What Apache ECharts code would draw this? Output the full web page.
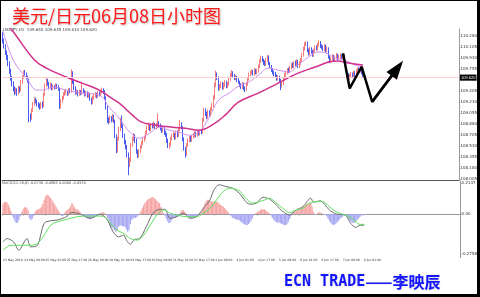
<!DOCTYPE html>
<html><head><meta charset="utf-8">
<script src="https://cdn.jsdelivr.net/npm/echarts@6/dist/echarts.min.js"></script>
<style>
html,body{margin:0;padding:0;background:#fff;}
#wrap{position:relative;width:480px;height:297px;overflow:hidden;}
#c{width:480px;height:297px;}
#frame{position:absolute;left:0;top:0;width:480px;height:297px;box-sizing:border-box;border-style:solid;border-color:#000;border-width:1px 3px 3px 1px;pointer-events:none;}
</style></head><body>
<div id="wrap"><div id="c"></div><div id="frame"></div></div>
<script>
// ---- data ----
const tickLabels = ['23 May 2018','24 May 09:00','25 May 01:00','25 May 17:00','28 May 09:00','29 May 01:00','29 May 17:00','30 May 09:00','31 May 01:00','31 May 17:00','1 Jun 09:00','4 Jun 01:00','4 Jun 17:00','5 Jun 09:00','6 Jun 01:00','6 Jun 17:00','7 Jun 09:00','8 Jun 01:00'];
const slotCount = 345;      // hourly slots across the plot (data + empty right margin)
const labelEvery = 16;      // one time label every 16 bars
const firstOpen = 110.30;
const closes = [
110.20,110.12,110.02,109.95,109.85,109.72,109.62,109.52,109.45,109.40,
109.42,109.38,109.45,109.42,109.55,109.62,109.70,109.68,109.62,109.58,
109.00,108.98,109.10,109.20,109.28,109.25,109.20,109.18,109.15,109.20,
109.17,109.35,109.50,109.58,109.52,109.47,109.50,109.45,109.48,109.46,
109.50,109.47,109.44,109.15,109.25,109.30,109.36,109.38,109.40,109.36,
109.42,109.40,109.70,109.55,109.45,109.38,109.40,109.35,109.40,109.37,
109.42,109.40,109.35,109.38,109.33,109.36,109.28,109.22,109.30,109.33,
109.36,109.32,109.38,109.35,109.40,109.42,109.40,109.30,109.15,108.95,
108.92,108.98,108.95,109.00,108.93,108.70,108.45,108.65,108.80,108.90,
108.85,108.70,108.60,108.52,108.40,108.25,108.30,108.55,108.65,108.70,
108.62,108.45,108.38,108.45,108.52,108.58,108.63,108.67,108.75,108.82,
108.85,108.80,108.86,108.85,108.88,108.83,108.87,108.90,108.86,108.82,
108.78,108.80,108.75,108.72,108.62,108.52,108.55,108.65,108.70,108.72,
108.66,108.75,108.70,108.80,108.88,108.83,108.65,108.50,108.40,108.55,
108.62,108.66,108.63,108.68,108.70,108.74,108.70,108.76,108.73,108.76,
108.75,108.95,109.10,109.05,109.00,109.08,109.03,109.12,109.18,109.30,
109.50,109.65,109.62,109.45,109.48,109.52,109.46,109.50,109.55,109.48,
109.52,109.60,109.66,109.70,109.65,109.61,109.63,109.58,109.55,109.50,
109.47,109.52,109.45,109.43,109.52,109.60,109.67,109.70,109.72,109.68,
109.74,109.70,109.73,109.80,109.88,109.94,109.90,109.85,109.84,109.90,
109.95,109.85,109.80,109.74,109.70,109.68,109.65,109.60,109.63,109.58,
109.50,109.52,109.60,109.66,109.70,109.74,109.72,109.78,109.82,109.80,
109.85,109.83,109.88,109.80,109.85,109.90,109.98,110.08,110.15,110.17,
110.05,110.00,110.08,110.03,109.98,110.05,110.10,110.08,110.14,110.18,
110.12,110.10,110.07,110.12,110.05,110.08,109.95,109.88,109.92,109.96,
109.90,109.94,109.98,109.93,109.95,109.97,109.94,109.96,109.85,109.75,
109.66,109.62,109.65,109.68,109.64,109.70,109.66,109.72,109.75,109.73,
109.78,109.70,109.64,109.62];
const highs = [
110.34,110.24,110.15,110.05,109.98,109.88,109.76,109.65,109.56,109.48,
109.46,109.45,109.49,109.48,109.58,109.66,109.73,109.74,109.70,109.65,
109.60,109.05,109.13,109.23,109.31,109.30,109.27,109.23,109.21,109.23,
109.24,109.38,109.53,109.63,109.60,109.55,109.54,109.53,109.51,109.50,
109.53,109.52,109.50,109.46,109.28,109.33,109.39,109.42,109.44,109.42,
109.45,109.45,109.75,109.72,109.58,109.48,109.43,109.42,109.43,109.42,
109.55,109.45,109.42,109.41,109.40,109.39,109.38,109.30,109.33,109.36,
109.39,109.38,109.41,109.40,109.43,109.46,109.45,109.42,109.32,109.17,
108.99,109.02,109.01,109.04,109.03,108.95,108.72,108.68,108.84,108.98,
109.02,108.88,108.73,108.63,108.55,108.43,108.35,108.58,108.68,108.74,
108.72,108.65,108.48,108.48,108.55,108.61,108.66,108.70,108.78,108.86,
108.91,108.88,108.89,108.90,108.92,108.90,108.90,109.05,108.93,108.89,
108.85,108.84,108.83,108.78,108.74,108.65,108.59,108.68,108.73,108.76,
108.74,108.78,108.78,108.84,108.95,108.91,108.85,108.67,108.52,108.58,
108.65,108.69,108.70,108.71,108.74,108.77,108.76,108.79,108.79,108.79,
108.80,108.98,109.14,109.13,109.08,109.11,109.10,109.15,109.22,109.34,
109.54,109.73,109.70,109.64,109.52,109.56,109.55,109.54,109.58,109.57,
109.55,109.63,109.69,109.74,109.72,109.68,109.66,109.65,109.61,109.57,
109.53,109.55,109.54,109.48,109.55,109.63,109.70,109.73,109.75,109.74,
109.77,109.76,109.76,109.83,109.91,109.97,109.96,109.92,109.89,109.93,
109.98,109.97,109.87,109.82,109.77,109.73,109.71,109.67,109.66,109.65,
109.60,109.56,109.63,109.69,109.73,109.77,109.78,109.81,109.85,109.86,
109.88,109.89,109.91,109.90,109.88,109.93,110.01,110.11,110.18,110.20,
110.19,110.08,110.11,110.10,110.06,110.08,110.13,110.13,110.17,110.21,
110.20,110.15,110.13,110.15,110.14,110.11,110.10,109.97,109.95,109.99,
109.98,109.97,110.01,110.00,109.98,110.00,109.99,109.99,109.98,109.87,
109.77,109.69,109.68,109.71,109.70,109.73,109.72,109.75,109.78,109.78,
109.81,109.80,109.72,109.66];
const lows = [
110.16,110.08,109.98,109.90,109.80,109.68,109.57,109.48,109.40,109.34,
109.36,109.33,109.35,109.38,109.40,109.52,109.60,109.64,109.59,109.54,
108.91,108.92,108.95,109.07,109.17,109.21,109.16,109.14,109.11,109.12,
109.13,109.15,109.33,109.47,109.49,109.43,109.44,109.42,109.42,109.43,
109.44,109.44,109.41,109.12,109.13,109.22,109.27,109.33,109.35,109.33,
109.34,109.37,109.38,109.52,109.42,109.35,109.35,109.32,109.33,109.34,
109.35,109.37,109.32,109.32,109.30,109.30,109.25,109.19,109.20,109.27,
109.30,109.29,109.30,109.32,109.33,109.37,109.36,109.27,109.11,108.90,
108.88,108.90,108.91,108.92,108.90,108.66,108.42,108.43,108.62,108.77,
108.82,108.66,108.56,108.48,108.35,108.07,108.20,108.28,108.52,108.61,
108.58,108.41,108.34,108.35,108.42,108.49,108.55,108.60,108.64,108.72,
108.79,108.77,108.77,108.81,108.82,108.80,108.80,108.84,108.83,108.78,
108.74,108.75,108.71,108.68,108.58,108.50,108.49,108.53,108.62,108.67,
108.63,108.64,108.67,108.68,108.77,108.80,108.61,108.46,108.35,108.38,
108.52,108.59,108.60,108.60,108.65,108.67,108.67,108.68,108.70,108.70,
108.72,108.73,108.92,109.01,108.96,108.97,109.00,109.00,109.09,109.15,
109.27,109.47,109.58,109.41,109.42,109.45,109.43,109.43,109.47,109.45,
109.45,109.49,109.57,109.63,109.62,109.58,109.58,109.55,109.52,109.47,
109.44,109.44,109.42,109.39,109.41,109.49,109.57,109.64,109.67,109.65,
109.65,109.67,109.67,109.70,109.77,109.85,109.87,109.82,109.80,109.81,
109.87,109.82,109.77,109.71,109.67,109.64,109.62,109.57,109.57,109.55,
109.42,109.46,109.50,109.57,109.63,109.67,109.69,109.69,109.75,109.77,
109.77,109.80,109.80,109.77,109.77,109.82,109.87,109.95,110.05,110.12,
110.02,109.97,109.97,110.00,109.95,109.95,110.02,110.05,110.05,110.11,
110.09,110.07,110.04,110.04,110.02,110.02,109.92,109.85,109.85,109.89,
109.87,109.87,109.91,109.90,109.90,109.92,109.91,109.91,109.82,109.72,
109.62,109.58,109.59,109.62,109.61,109.61,109.63,109.63,109.69,109.70,
109.70,109.67,109.61,109.59];
const priceTicks = [108.005,108.180,108.355,108.530,108.705,108.880,109.055,109.230,109.405,109.580,109.755,109.930,110.105,110.280];
const lastPrice = 109.62;
// moving averages, sampled [bar index, price]
const maSlow = [[0,110.55],[7,110.375],[24,109.898],[33,109.771],[48,109.628],[60,109.532],[73,109.421],[81,109.310],[88,109.214],[98,109.023],[105,108.912],[116,108.864],[128,108.832],[138,108.816],[148,108.784],[158,108.864],[168,109.023],[178,109.230],[193,109.373],[208,109.532],[223,109.691],[236,109.787],[246,109.866],[253,109.882],[261,109.850],[272,109.819]];
const maFast = [[0,110.375],[8,109.898],[18,109.612],[26,109.421],[30,109.421],[38,109.469],[48,109.421],[60,109.373],[73,109.341],[81,109.135],[88,108.975],[96,108.753],[103,108.657],[111,108.737],[118,108.832],[126,108.784],[133,108.753],[141,108.705],[148,108.753],[156,108.991],[163,109.262],[171,109.373],[178,109.485],[186,109.548],[193,109.659],[201,109.771],[208,109.739],[216,109.707],[223,109.819],[231,109.946],[238,110.025],[244,110.010],[251,109.930],[258,109.898],[266,109.819],[272,109.787]];
// hand-drawn forecast zigzag, [bar index, price]
const arrowPath = [[257,110.005],[262,109.448],[271,109.792],[279,109.235],[298,109.766]];
// MACD panel
const macdHist = [
0.07,0.08,0.083,0.08,0.065,0.045,0.02,-0.01,-0.03,-0.05,
-0.062,-0.058,-0.04,-0.015,0.01,0.03,0.045,0.048,0.04,0.025,
-0.03,-0.041,-0.035,-0.015,0.01,0.025,0.03,0.035,0.04,0.05,
0.07,0.095,0.12,0.131,0.128,0.12,0.11,0.095,0.08,0.065,
0.05,0.035,0.02,0.005,-0.012,-0.014,0.005,0.015,0.025,0.03,
0.04,0.055,0.076,0.06,0.045,0.035,0.03,0.025,0.015,-0.005,
-0.01,-0.015,-0.02,-0.025,-0.03,-0.035,-0.032,-0.028,-0.025,-0.02,
-0.015,-0.01,-0.005,0.003,0.008,0.012,0.01,0.004,-0.01,-0.03,
-0.05,-0.076,-0.09,-0.1,-0.112,-0.122,-0.11,-0.087,-0.08,-0.078,
-0.082,-0.085,-0.087,-0.105,-0.122,-0.11,-0.07,-0.04,-0.03,-0.028,
-0.025,-0.02,-0.01,0.005,0.02,0.04,0.06,0.075,0.088,0.098,
0.105,0.108,0.113,0.117,0.11,0.1,0.09,0.08,0.074,0.05,
0.02,0.005,-0.01,-0.03,-0.05,-0.062,-0.058,-0.045,-0.03,-0.028,
-0.025,-0.02,-0.012,-0.004,0.015,0.028,0.025,0.015,0.005,-0.01,
-0.02,-0.028,-0.028,-0.025,-0.022,-0.018,-0.015,-0.01,-0.005,0.005,
0.02,0.045,0.07,0.088,0.097,0.095,0.09,0.085,0.083,0.085,
0.087,0.085,0.08,0.07,0.062,0.056,0.051,0.04,0.03,0.02,
0.01,-0.005,-0.015,-0.025,-0.03,-0.035,-0.038,-0.04,-0.042,-0.05,
-0.058,-0.065,-0.07,-0.076,-0.075,-0.07,-0.06,-0.045,-0.03,-0.01,
0.003,0.008,0.015,0.022,0.028,0.032,0.034,0.03,0.025,0.018,
0.01,0.003,-0.01,-0.025,-0.04,-0.05,-0.055,-0.06,-0.058,-0.062,
-0.068,-0.072,-0.075,-0.076,-0.07,-0.055,-0.035,-0.015,0.005,0.012,
0.018,0.022,0.025,0.03,0.035,0.04,0.048,0.055,0.062,0.068,
0.072,0.075,0.076,0.05,0.015,-0.005,-0.004,0.006,0.012,0.012,
0.006,0.001,-0.002,-0.005,-0.015,-0.03,-0.045,-0.06,-0.07,-0.076,
-0.072,-0.065,-0.055,-0.045,-0.035,-0.025,-0.018,-0.01,-0.004,-0.01,
-0.025,-0.04,-0.05,-0.058,-0.062,-0.058,-0.05,-0.04,-0.03,-0.02,
-0.012,-0.006,-0.004,-0.003];
const macdMain = [[0,-0.191],[3,-0.168],[8,-0.191],[12,-0.248],[16,-0.191],[18,-0.168],[21,-0.225],[26,-0.214],[31,-0.064],[36,-0.046],[41,-0.041],[48,-0.018],[52,0.011],[58,0],[66,-0.030],[73,-0.002],[78,-0.030],[83,-0.122],[87,-0.156],[91,-0.145],[93,-0.179],[96,-0.207],[99,-0.175],[103,-0.168],[108,-0.087],[113,0.005],[118,0.032],[122,0.032],[126,-0.030],[131,-0.018],[136,0.005],[141,-0.030],[146,-0.018],[151,0.039],[156,0.097],[159,0.165],[163,0.200],[168,0.188],[173,0.177],[178,0.143],[186,0.067],[191,0.074],[196,0.115],[201,0.101],[206,0.062],[211,0.016],[216,-0.007],[221,0.028],[226,0.050],[232,0.108],[234,0.081],[239,0.090],[246,0.028],[251,0],[258,-0.007],[262,-0.064],[266,-0.092],[269,-0.076],[272,-0.080]];
const macdSignal = [[0,-0.248],[6,-0.214],[13,-0.214],[21,-0.214],[26,-0.202],[31,-0.145],[36,-0.076],[41,-0.053],[48,-0.037],[56,-0.018],[63,-0.014],[71,-0.014],[76,-0.018],[81,-0.064],[86,-0.110],[91,-0.133],[96,-0.168],[101,-0.179],[106,-0.145],[111,-0.076],[116,-0.007],[121,0.028],[126,0.005],[131,-0.007],[138,-0.018],[146,-0.018],[151,0.005],[156,0.039],[161,0.097],[166,0.154],[171,0.177],[178,0.160],[183,0.108],[188,0.074],[196,0.092],[201,0.108],[206,0.074],[211,0.039],[216,0.009],[221,0.028],[226,0.039],[231,0.074],[236,0.085],[241,0.085],[246,0.050],[251,0.016],[256,-0.002],[261,-0.018],[266,-0.053],[269,-0.071],[273,-0.071]];
const macdTicks = [-0.2758, 0, 0.2137];

// ---- build the option ----
const cats = Array.from({length: slotCount}, (_, i) => String(i));
const opens = closes.map((c, i) => i === 0 ? firstOpen : closes[i - 1]);
const candleData = closes.map((c, i) => [opens[i], c, lows[i], highs[i]]);
const showLabel = (idx) => idx % labelEvery === 0 && idx / labelEvery < tickLabels.length;

const chart = echarts.init(document.getElementById('c'), null, {renderer: 'canvas'});
chart.setOption({
  animation: false,
  backgroundColor: '#ffffff',
  title: [
    {text: '美元/日元06月08日小时图', left: 7, top: 2,
     textStyle: {color: '#ff1a1a', fontSize: 18, fontWeight: 'normal', fontFamily: 'Noto Sans CJK SC',
       textShadowColor: 'rgba(0,0,0,0.25)', textShadowBlur: 2, textShadowOffsetX: 1, textShadowOffsetY: 1}},
    {text: '{a|ECN TRADE}{b|——李映辰}', left: 279, top: 269,
     textStyle: {rich: {
       a: {fontFamily: 'DejaVu Sans Mono', fontSize: 15, color: '#1515ff', textShadowColor: 'rgba(0,0,0,0.2)', textShadowBlur: 2},
       b: {fontFamily: 'Noto Sans CJK SC', fontSize: 16, color: '#1515ff', textShadowColor: 'rgba(0,0,0,0.2)', textShadowBlur: 2}}}}
  ],
  graphic: [
    {type: 'text', left: 3, top: 28, style: {text: 'USDJPY,H1  109.640 109.645 109.610 109.620', fontSize: 4, fill: '#444', fontFamily: 'DejaVu Sans'}},
    {type: 'text', left: 2, top: 181, style: {text: 'MACD(12,26,9) -0.0730 -0.0865 0.0000 -0.0579', fontSize: 3.5, fill: '#444', fontFamily: 'DejaVu Sans'}}
  ],
  grid: [
    {left: 2, right: 18, top: 29, height: 151},
    {left: 2, right: 18, top: 181, height: 76.5}
  ],
  xAxis: [
    {type: 'category', gridIndex: 0, data: cats, boundaryGap: true,
     axisLine: {show: true, lineStyle: {color: '#555', width: 1}}, axisTick: {show: false}, axisLabel: {show: false}, splitLine: {show: false}},
    {type: 'category', gridIndex: 1, data: cats, boundaryGap: true,
     axisLine: {show: true, lineStyle: {color: '#9a9a9a', width: 1}},
     axisTick: {show: true, length: 1.5, interval: (i) => showLabel(i), lineStyle: {color: '#9a9a9a'}},
     axisLabel: {show: true, interval: (i) => showLabel(i), formatter: (v, idx) => tickLabels[idx / labelEvery],
       showMinLabel: true, hideOverlap: false,
       fontSize: 3, color: '#333', align: 'left', margin: 1.5, fontFamily: 'DejaVu Sans'},
     splitLine: {show: false}}
  ],
  yAxis: [
    {type: 'value', gridIndex: 0, position: 'right', min: 107.994, max: 110.391, scale: true,
     axisLine: {show: true, lineStyle: {color: '#9a9a9a'}},
     axisTick: {show: true, length: 1.5, customValues: priceTicks, lineStyle: {color: '#9a9a9a'}},
     axisLabel: {customValues: priceTicks, formatter: (v) => v.toFixed(3), fontSize: 4, color: '#333', margin: 1.5, fontFamily: 'DejaVu Sans'},
     splitLine: {show: false}},
    {type: 'value', gridIndex: 1, position: 'right', min: -0.2977, max: 0.2259,
     axisLine: {show: true, lineStyle: {color: '#9a9a9a'}},
     axisTick: {show: true, length: 1.5, customValues: macdTicks, lineStyle: {color: '#9a9a9a'}},
     axisLabel: {customValues: macdTicks, formatter: (v) => v === 0 ? '0.00' : v.toFixed(4), fontSize: 4, color: '#333', margin: 1.5, fontFamily: 'DejaVu Sans'},
     splitLine: {show: false}}
  ],
  series: [
    {type: 'candlestick', xAxisIndex: 0, yAxisIndex: 0, data: candleData, barWidth: 1,
     itemStyle: {color: '#f88e8e', color0: '#2a3de0', borderColor: '#f47c7c', borderColor0: '#4a5cf0', borderWidth: 1},
     markLine: {silent: true, symbol: ['none', 'none'], data: [{yAxis: lastPrice}],
       lineStyle: {color: '#ffd0d0', width: 1, type: 'solid'},
       label: {position: 'end', formatter: lastPrice.toFixed(3), color: '#fff', backgroundColor: '#000', fontSize: 4, padding: [1, 1], distance: 1}},
     z: 2},
    {type: 'line', xAxisIndex: 0, yAxisIndex: 0, data: maFast, smooth: 0.4, symbol: 'none',
     lineStyle: {color: '#cf8ef2', width: 1}, z: 3},
    {type: 'line', xAxisIndex: 0, yAxisIndex: 0, data: maSlow, smooth: 0.4, symbol: 'none',
     lineStyle: {color: '#d2308c', width: 1.5}, z: 3},
    {type: 'line', xAxisIndex: 0, yAxisIndex: 0, data: arrowPath, symbol: 'none',
     lineStyle: {color: '#000', width: 2.5}, z: 10,
     markLine: {silent: true, symbol: ['none', 'triangle'], symbolSize: [13, 19],
       data: [[{coord: arrowPath[3]}, {coord: arrowPath[4]}]],
       lineStyle: {color: '#000', width: 2.5, type: 'solid'}, label: {show: false}}},
    {type: 'bar', xAxisIndex: 1, yAxisIndex: 1, barWidth: '100%',
     data: macdHist.map(v => ({value: v, itemStyle: {color: v >= 0 ? '#f6a5a5' : '#a9a9f3'}})), z: 2},
    {type: 'line', xAxisIndex: 1, yAxisIndex: 1, data: macdMain, smooth: 0.3, symbol: 'none',
     lineStyle: {color: '#6e6e6e', width: 1}, z: 3},
    {type: 'line', xAxisIndex: 1, yAxisIndex: 1, data: macdSignal, smooth: 0.3, symbol: 'none',
     lineStyle: {color: '#5fe05f', width: 1}, z: 3}
  ]
});
</script>
</body></html>
